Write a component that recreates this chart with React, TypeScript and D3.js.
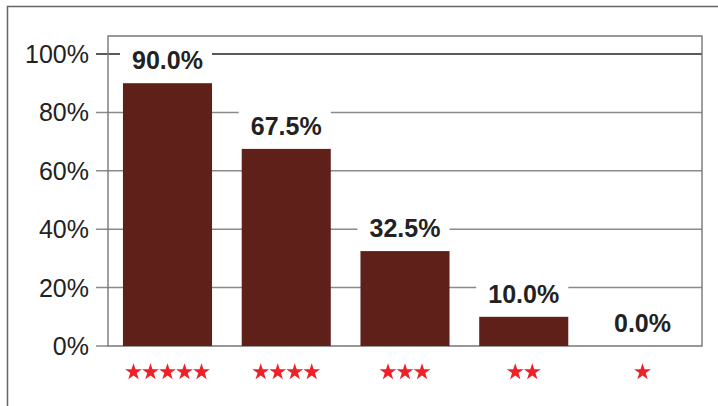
import { useMemo } from "react";
import * as d3 from "d3";

// rating categories (number of stars) and share of respondents
const ratings = [5, 4, 3, 2, 1];
const shares = [90.0, 67.5, 32.5, 10.0, 0.0];
const yTicks = [0, 20, 40, 60, 80, 100];

const W = 718;
const H = 406;
const margin = { top: 36, right: 16, bottom: 60, left: 108 };

const App = () => {
  const x = useMemo(
    () =>
      d3
        .scaleBand<number>()
        .domain(ratings)
        .range([margin.left, W - margin.right])
        .paddingInner(0.25)
        .paddingOuter(0.126),
    []
  );
  const y = useMemo(
    () => d3.scaleLinear().domain([0, 100]).range([346, 54]),
    []
  );
  const star = d3.symbol(d3.symbolStar, 88)() as string;
  const font = "'Liberation Sans', Arial, sans-serif";
  const right = W - margin.right;

  return (
    <svg
      width={W}
      height={H}
      style={{ position: "absolute", left: 0, top: 0, background: "#fff" }}
    >
      {/* outer frame (cropped) */}
      <path d={`M7.5,${H}V6.5H${W}`} fill="none" stroke="#666" strokeWidth={1.5} />

      {/* grid lines and y ticks */}
      {yTicks.map((t) => (
        <g key={t}>
          {t > 0 && (
            <line
              x1={96}
              x2={right}
              y1={y(t)}
              y2={y(t)}
              stroke={t === 100 ? "#222" : "#8a8a8a"}
              strokeWidth={1.5}
            />
          )}
          {t === 0 && (
            <line x1={96} x2={margin.left} y1={y(t)} y2={y(t)} stroke="#8a8a8a" strokeWidth={1.5} />
          )}
          <text
            x={89}
            y={y(t)}
            dy="0.36em"
            textAnchor="end"
            fontFamily={font}
            fontSize={25}
            fill="#222"
          >
            {t}%
          </text>
        </g>
      ))}

      {/* plot box */}
      <path
        d={`M${margin.left},346V${margin.top}H${right}V346Z`}
        fill="none"
        stroke="#777"
        strokeWidth={1.4}
      />

      {/* bars */}
      {ratings.map((r, i) => (
        <rect
          key={r}
          x={x(r)}
          y={y(shares[i])}
          width={x.bandwidth()}
          height={y(0) - y(shares[i])}
          fill="#60201a"
        />
      ))}

      {/* value labels */}
      {ratings.map((r, i) => {
        const cx = x(r)! + x.bandwidth() / 2;
        const base = y(shares[i]) - 14;
        return (
          <g key={r}>
            <rect
              x={x(r)! - 3}
              y={base - 25}
              width={x.bandwidth() + 3}
              height={30}
              fill="#fff"
            />
            <text
              x={cx}
              y={base}
              textAnchor="middle"
              fontFamily={font}
              fontWeight="bold"
              fontSize={25}
              fill="#222"
            >
              {shares[i].toFixed(1)}%
            </text>
          </g>
        );
      })}

      {/* star labels */}
      {ratings.map((r) => {
        const cx = x(r)! + x.bandwidth() / 2;
        return (
          <g key={r}>
            {d3.range(r).map((k) => (
              <path
                key={k}
                d={star}
                transform={`translate(${cx + (k - (r - 1) / 2) * 17},372)`}
                fill="#ee2128"
              />
            ))}
          </g>
        );
      })}
    </svg>
  );
};

export default App;
